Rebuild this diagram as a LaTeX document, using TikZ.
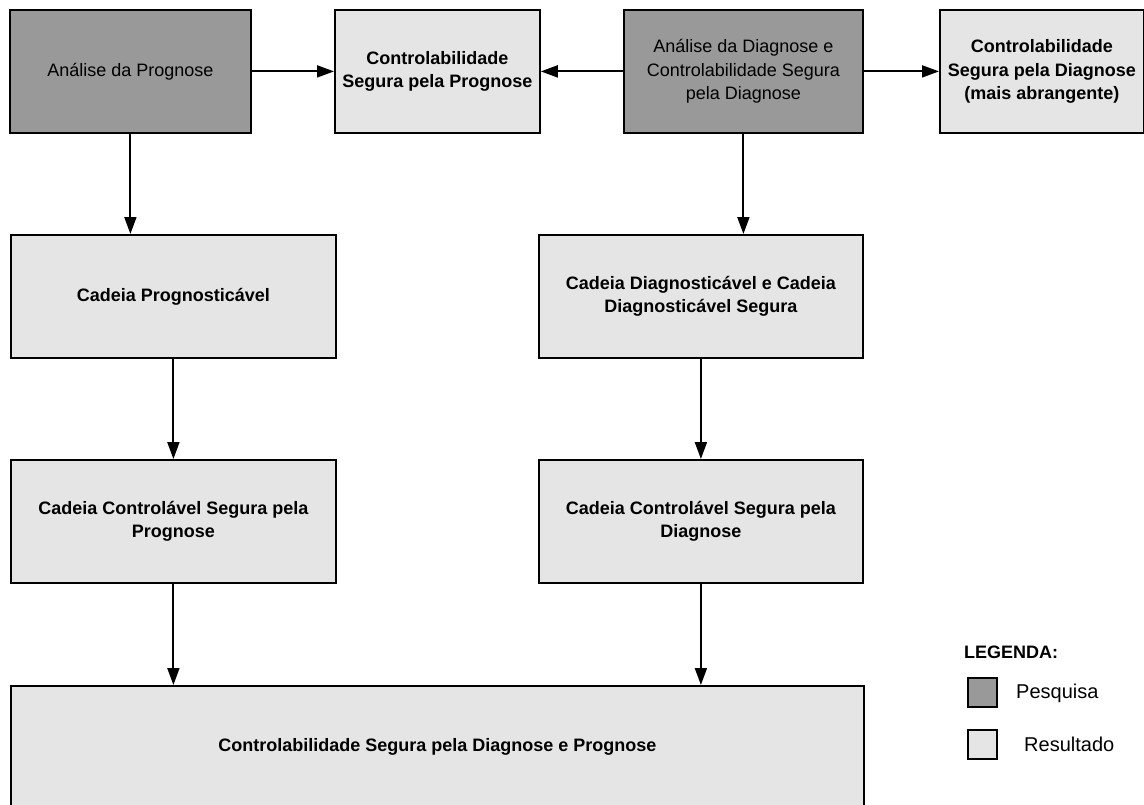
\documentclass[tikz,border=0pt]{standalone}
\usepackage{fontspec}
\setmainfont{Liberation Sans}
\usetikzlibrary{arrows.meta}
\definecolor{pesqgray}{HTML}{999999}
\definecolor{resgray}{HTML}{E5E5E5}
\tikzset{
  boxbase/.style={draw=black, line width=1.8pt, inner sep=0pt, align=center, anchor=north west,
    font=\fontsize{18}{23.5}\selectfont},
  pesq/.style={boxbase, fill=pesqgray},
  res/.style={boxbase, fill=resgray, font=\fontsize{18}{23.5}\selectfont\bfseries},
  conn/.style={line width=1.9pt, -{Triangle[length=17pt,width=12pt]}},
  legsq/.style={draw=black, line width=1.8pt, minimum width=29pt, minimum height=29pt, inner sep=0pt, anchor=north west},
  legtxt/.style={anchor=west, inner sep=0pt, font=\fontsize{20}{24}\selectfont}
}
\begin{document}
\begin{tikzpicture}[x=1pt,y=-1pt]
\useasboundingbox (0,0) rectangle (1144,804);
\clip (0,0) rectangle (1144,804);
% top row
\node[pesq, minimum width=241pt, minimum height=123pt] (A) at (9,9) {Análise da Prognose};
\node[res, minimum width=205pt, minimum height=123pt] (B) at (334,9) {Controlabilidade\\Segura pela Prognose};
\node[pesq, minimum width=239pt, minimum height=123pt] (C) at (623,9) {Análise da Diagnose e\\Controlabilidade Segura\\pela Diagnose};
\node[res, minimum width=204pt, minimum height=123pt] (D) at (939,9) {Controlabilidade\\Segura pela Diagnose\\(mais abrangente)};
% second row
\node[res, minimum width=325pt, minimum height=123pt] (E) at (10,234) {Cadeia Prognosticável};
\node[res, minimum width=324pt, minimum height=123pt] (F) at (538,234) {Cadeia Diagnosticável e Cadeia\\Diagnosticável Segura};
% third row
\node[res, minimum width=325pt, minimum height=123pt] (G) at (10,459) {Cadeia Controlável Segura pela\\Prognose};
\node[res, minimum width=324pt, minimum height=123pt] (H) at (538,459) {Cadeia Controlável Segura pela\\Diagnose};
% bottom
\node[res, minimum width=853pt, minimum height=122pt] (I) at (10,685) {Controlabilidade Segura pela Diagnose e Prognose};
% connectors
\draw[conn] (A.east) -- (B.west);
\draw[conn] (C.west) -- (B.east);
\draw[conn] (C.east) -- (D.west);
\draw[conn] (A.south) -- (A.south |- E.north);
\draw[conn] (C.south) -- (C.south |- F.north);
\draw[conn] (E.south) -- (G.north);
\draw[conn] (F.south) -- (H.north);
\draw[conn] (G.south) -- (G.south |- I.north);
\draw[conn] (H.south) -- (H.south |- I.north);
% legend
\node[anchor=base west, inner sep=0pt, font=\fontsize{18}{22}\selectfont\bfseries] (L) at (964,658) {LEGENDA:};
\node[legsq, fill=pesqgray] (S1) at (967,677) {};
\node[legtxt] (T1) at (1016,693) {Pesquisa};
\node[legsq, fill=resgray] (S2) at (967,729) {};
\node[legtxt] (T2) at (1024,744) {Resultado};
\end{tikzpicture}
\end{document}
